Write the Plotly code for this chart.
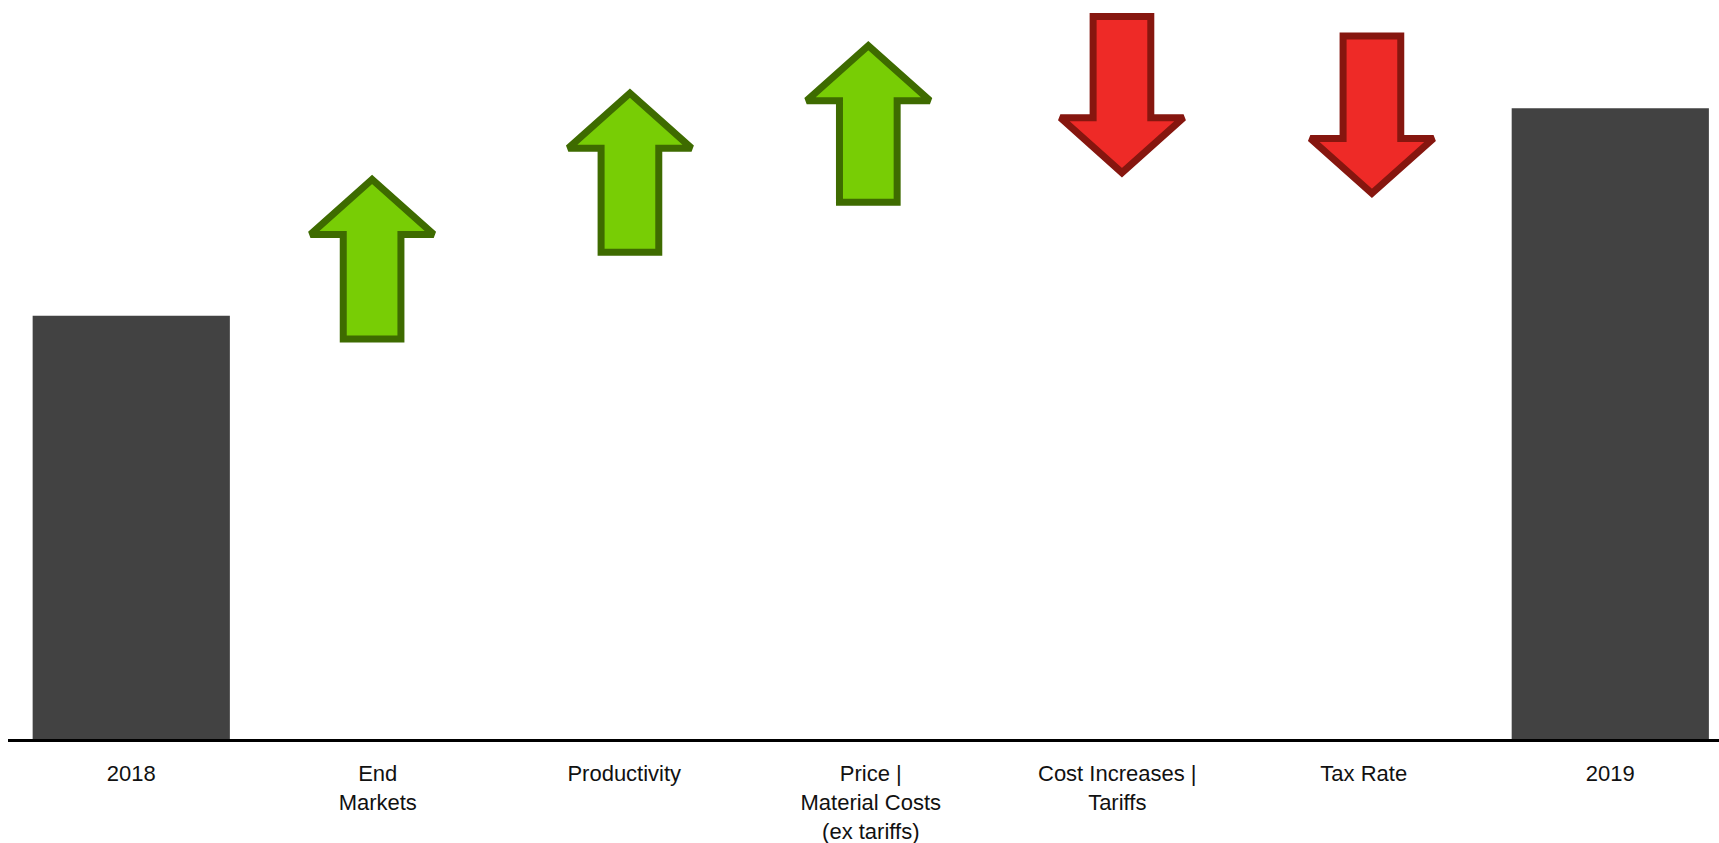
import plotly.graph_objects as go

# ---- data ----
categories = ["2018", "End<br>Markets", "Productivity",
              "Price |<br>Material Costs<br>(ex tariffs)",
              "Cost Increases |<br>Tariffs", "Tax Rate", "2019"]
category_positions = [0, 1, 2, 3, 4, 5, 6]

total_positions = [0, 6]
total_values = [100, 149]

arrow_names = ["End Markets", "Productivity", "Price | Material Costs",
               "Cost Increases | Tariffs", "Tax Rate"]
arrow_x = [0.977, 2.023, 2.99, 4.019, 5.033]
arrow_start = [94.5, 115.0, 126.8, 170.7, 166.1]
arrow_end = [132.2, 152.6, 163.8, 133.8, 128.9]

# ---- style ----
BAR_COLOR = "#424242"
UP_FILL, UP_LINE = "#78CD05", "#3E6B00"
DOWN_FILL, DOWN_LINE = "#EE2A27", "#86160F"
HEAD_LEN = 13.0       # y units
HEAD_HALF = 0.25      # x units
SHAFT_HALF = 0.117    # x units

fig = go.Figure()

fig.add_trace(go.Bar(
    x=total_positions, y=total_values, width=0.8,
    marker=dict(color=BAR_COLOR, line=dict(width=0)),
    hoverinfo="skip", showlegend=False,
))

for name, xc, y0, y1 in zip(arrow_names, arrow_x, arrow_start, arrow_end):
    up = y1 > y0
    hb = y1 - HEAD_LEN if up else y1 + HEAD_LEN
    xs = [xc, xc + SHAFT_HALF, xc + SHAFT_HALF, xc + HEAD_HALF,
          xc, xc - HEAD_HALF, xc - SHAFT_HALF, xc - SHAFT_HALF, xc]
    ys = [y0, y0, hb, hb, y1, hb, hb, y0, y0]
    fig.add_trace(go.Scatter(
        x=xs, y=ys, mode="lines", fill="toself",
        fillcolor=UP_FILL if up else DOWN_FILL,
        line=dict(color=UP_LINE if up else DOWN_LINE, width=7),
        name=name, hoverinfo="name", showlegend=False,
    ))

fig.update_layout(
    width=1719, height=843,
    margin=dict(l=8, r=0, t=0, b=104, autoexpand=False),
    paper_bgcolor="white", plot_bgcolor="white",
    showlegend=False,
    font=dict(family="Liberation Sans, Arial, sans-serif", size=22, color="#111111"),
    xaxis=dict(
        range=[-0.5, 6.441],
        tickmode="array", tickvals=category_positions, ticktext=categories,
        showline=True, linecolor="black", linewidth=3,
        showgrid=False, zeroline=False, ticks="",
        ticklabelstandoff=13, automargin=False,
        fixedrange=True,
    ),
    yaxis=dict(range=[0, 174.6], visible=False, fixedrange=True, automargin=False),
)

fig.write_html("out.html")
